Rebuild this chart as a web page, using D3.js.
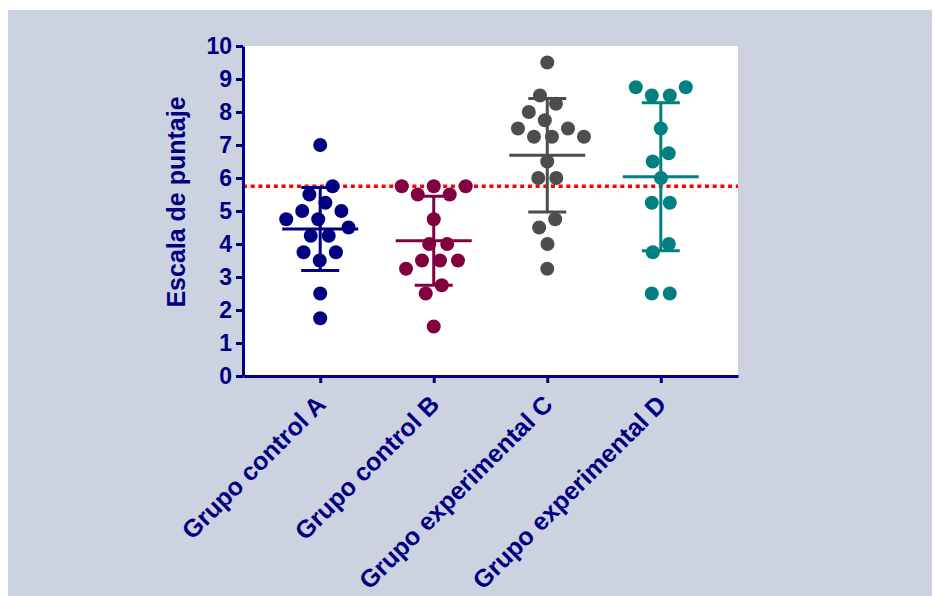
<!DOCTYPE html>
<html>
<head>
<meta charset="utf-8">
<script src="https://cdn.jsdelivr.net/npm/d3@7/dist/d3.min.js"></script>
<style>
  html, body { margin: 0; padding: 0; background: #fff; }
  svg { display: block; font-family: "Liberation Sans", Arial, sans-serif; }
</style>
</head>
<body>
<div id="chart"></div>
<script>
// values (score scale 0-10)
const groups = ['Grupo control A', 'Grupo control B', 'Grupo experimental C', 'Grupo experimental D'];
const colors = ['#000080', '#800040', '#4d4d4d', '#008080'];
const valuesA = [7, 5.75, 5.5, 5.25, 5, 5, 4.75, 4.75, 4.5, 4.25, 4.25, 3.75, 3.75, 3.5, 2.5, 1.75];
const valuesB = [5.75, 5.75, 5.75, 5.5, 5.5, 4.75, 4, 4, 3.5, 3.5, 3.5, 3.25, 2.75, 2.5, 1.5];
const valuesC = [9.5, 8.5, 8.25, 8, 7.75, 7.5, 7.5, 7.25, 7.25, 7.25, 6.5, 6, 6, 4.75, 4.5, 4, 3.25];
const valuesD = [8.75, 8.75, 8.5, 8.5, 7.5, 6.75, 6.5, 6, 5.25, 5.25, 4, 3.75, 2.5, 2.5];
const yTicks = [0, 1, 2, 3, 4, 5, 6, 7, 8, 9, 10];
const refValue = 5.75;
const yTitle = 'Escala de puntaje';

const series = [valuesA, valuesB, valuesC, valuesD];
const navy = '#000080';
const W = 934, H = 596;
const margin = { t: 46, r: 196, b: 220, l: 243 };
const r = 7;

const svg = d3.select('#chart').append('svg').attr('width', W).attr('height', H);

svg.append('rect').attr('x', 8).attr('y', 10).attr('width', 924).attr('height', H - 10).attr('fill', '#ccd2e0');

const x = d3.scalePoint().domain(groups).range([margin.l, W - margin.r]).padding(0.68);
const y = d3.scaleLinear().domain([0, 10]).range([H - margin.b, margin.t]);

svg.append('rect')
  .attr('x', margin.l).attr('y', margin.t)
  .attr('width', W - margin.r - margin.l).attr('height', H - margin.b - margin.t)
  .attr('fill', '#fff');

// reference line
svg.append('line')
  .attr('x1', margin.l).attr('x2', W - margin.r)
  .attr('y1', y(refValue)).attr('y2', y(refValue))
  .attr('stroke', '#ff0000').attr('stroke-width', 3.5).attr('stroke-dasharray', '4 3.7');

// mean and SD bars
series.forEach((vals, i) => {
  const cx = x(groups[i]);
  const m = d3.mean(vals), sd = d3.deviation(vals);
  const g = svg.append('g').attr('stroke', colors[i]).attr('stroke-width', 3);
  g.append('line').attr('x1', cx).attr('x2', cx).attr('y1', y(m + sd)).attr('y2', y(m - sd));
  g.append('line').attr('x1', cx - 38).attr('x2', cx + 38).attr('y1', y(m)).attr('y2', y(m));
  [m + sd, m - sd].forEach(v => g.append('line').attr('x1', cx - 19).attr('x2', cx + 19).attr('y1', y(v)).attr('y2', y(v)));
});

// scatter: spread points horizontally so they don't pile up
series.forEach((vals, i) => {
  const cx = x(groups[i]);
  const nodes = vals.map(v => ({ v, x: cx, fy: y(v) }));
  const sim = d3.forceSimulation(nodes)
    .force('x', d3.forceX(cx).strength(0.06))
    .force('collide', d3.forceCollide(9).strength(1))
    .stop();
  for (let k = 0; k < 300; k++) sim.tick();
  svg.append('g').selectAll('circle').data(nodes).join('circle')
    .attr('cx', d => d.x).attr('cy', d => y(d.v)).attr('r', r)
    .attr('fill', colors[i]);
});

// axes
const yAxis = svg.append('g').attr('transform', `translate(${margin.l},0)`)
  .call(d3.axisLeft(y).tickValues(yTicks).tickSize(7).tickSizeOuter(0).tickPadding(4));
const xAxis = svg.append('g').attr('transform', `translate(0,${H - margin.b})`)
  .call(d3.axisBottom(x).tickSize(7).tickSizeOuter(0).tickFormat(''));

[yAxis, xAxis].forEach(a => {
  a.selectAll('path, line').attr('stroke', navy).attr('stroke-width', 3);
});
yAxis.selectAll('text').attr('fill', navy).attr('font-size', 23).attr('font-weight', 'bold');

svg.append('g').selectAll('text').data(groups).join('text')
  .attr('transform', d => `translate(${x(d) + 7},${H - margin.b + 30}) rotate(-45)`)
  .attr('text-anchor', 'end')
  .attr('fill', navy).attr('font-size', 25).attr('font-weight', 'bold')
  .text(d => d);

svg.append('text')
  .attr('transform', `translate(185,${(margin.t + H - margin.b) / 2 - 9}) rotate(-90)`)
  .attr('text-anchor', 'middle')
  .attr('fill', navy).attr('font-size', 25).attr('font-weight', 'bold')
  .text(yTitle);
</script>
</body>
</html>
